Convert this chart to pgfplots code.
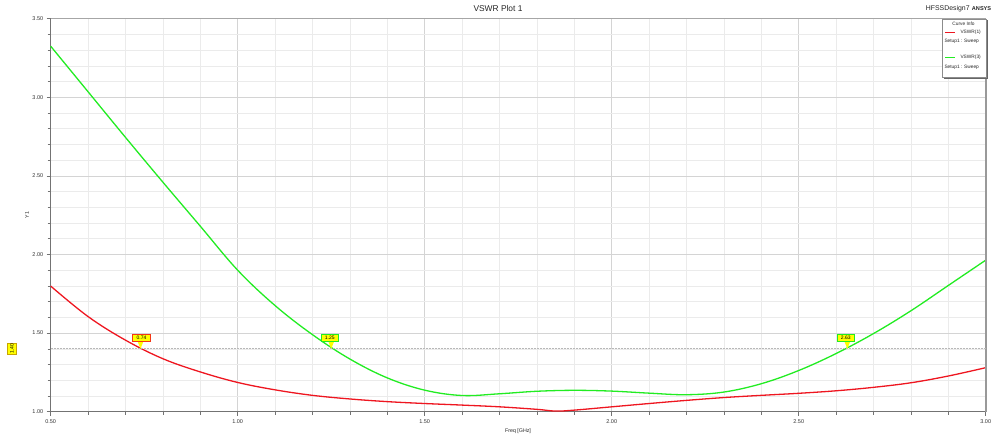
\documentclass[border=0pt]{standalone}
\usepackage{pgfplots}
\pgfplotsset{compat=1.18}
\usepackage{fontspec}
\setmainfont{Liberation Sans}
\definecolor{vred}{RGB}{238,22,32}
\definecolor{vgreen}{RGB}{34,236,34}
\definecolor{mkyel}{RGB}{255,255,0}
\definecolor{mkbord}{RGB}{200,165,0}
\pgfplotstableread{
x y
0.50 1.799
0.60 1.605
0.70 1.455
0.80 1.337
0.90 1.253
1.00 1.186
1.10 1.139
1.20 1.104
1.30 1.081
1.40 1.064
1.50 1.052
1.60 1.042
1.70 1.031
1.80 1.015
1.85 1.004
1.90 1.010
2.00 1.031
2.10 1.052
2.20 1.072
2.30 1.090
2.40 1.104
2.50 1.117
2.60 1.133
2.70 1.155
2.80 1.184
2.90 1.227
3.00 1.280
}\redtab
\pgfplotstableread{
x y
0.50 3.325
0.60 3.035
0.70 2.745
0.80 2.460
0.90 2.180
1.00 1.900
1.10 1.675
1.20 1.490
1.30 1.335
1.40 1.215
1.50 1.137
1.60 1.103
1.70 1.114
1.80 1.130
1.90 1.136
2.00 1.131
2.10 1.118
2.20 1.108
2.30 1.125
2.40 1.178
2.50 1.262
2.60 1.370
2.70 1.497
2.80 1.642
2.90 1.803
3.00 1.964
}\greentab
\begin{document}
\begin{tikzpicture}
\path[use as bounding box] (0pt,0pt) rectangle (1000pt,438pt);
\begin{axis}[
  at={(50.7pt,26.3pt)}, anchor=south west,
  scale only axis, width=935pt, height=393pt,
  xmin=0.5, xmax=3, ymin=1, ymax=3.5,
  xtick={0.5,1,1.5,2,2.5,3}, ytick={1,1.5,2,2.5,3,3.5},
  minor x tick num=4, minor y tick num=4,
  grid=both,
  major grid style={draw=black!17, line width=0.6pt},
  minor grid style={draw=black!8, line width=0.6pt},
  tick pos=left, tick align=outside,
  major tick length=4pt, minor tick length=3pt,
  every tick/.style={draw=black!55, line width=0.6pt},
  axis line style={draw=black!55, line width=0.7pt},
  /pgf/number format/fixed, /pgf/number format/fixed zerofill,
  /pgf/number format/precision=2, /pgf/number format/assume math mode=true,
  tick label style={font=\fontsize{5.5}{6}\selectfont, text=black!80},
  xticklabel style={yshift=0pt},
  clip=false,
]
\addplot[vred, line width=1.3pt, smooth, tension=0.6] table[x=x,y=y] {\redtab};
\addplot[vgreen, line width=1.3pt, smooth, tension=0.6] table[x=x,y=y] {\greentab};
% right and top border
\draw[black!40, line width=1.8pt] (rel axis cs:1,0) -- (rel axis cs:1,1);
\draw[black!35, line width=0.8pt] (rel axis cs:0,1) -- (rel axis cs:1,1);
% 1.40 reference line
\draw[black!28, dash pattern=on 2pt off 1pt, line width=0.9pt] (axis cs:0.5,1.4) -- (axis cs:3,1.4);
% marker 0.74
\fill[mkyel] (axis cs:0.74,1.4) -- ++(-3pt,7.6pt) -- ++(6pt,0pt) -- cycle;
\node[fill=mkyel, draw=vred!70!orange, line width=0.5pt, inner sep=0pt, minimum width=17.5pt, minimum height=7.5pt, font=\fontsize{5}{5}\selectfont, anchor=south, yshift=7.3pt, xshift=1pt] at (axis cs:0.74,1.4) {0.74};
% marker 1.25
\fill[mkyel] (axis cs:1.25,1.4) -- ++(-3pt,7.6pt) -- ++(6pt,0pt) -- cycle;
\node[fill=mkyel, draw=vgreen, line width=0.5pt, inner sep=0pt, minimum width=17.5pt, minimum height=7.5pt, font=\fontsize{5}{5}\selectfont, anchor=south, yshift=7.3pt, xshift=-1.5pt] at (axis cs:1.25,1.4) {1.25};
% marker 2.63
\fill[mkyel] (axis cs:2.63,1.4) -- ++(-3pt,7.6pt) -- ++(6pt,0pt) -- cycle;
\node[fill=mkyel, draw=vgreen, line width=0.5pt, inner sep=0pt, minimum width=17.5pt, minimum height=7.5pt, font=\fontsize{5}{5}\selectfont, anchor=south, yshift=7.3pt, xshift=-1.5pt] at (axis cs:2.63,1.4) {2.63};
% y marker 1.40
\node[fill=mkyel, draw=mkbord, line width=0.5pt, inner sep=0pt, minimum width=11.3pt, minimum height=9.4pt, font=\fontsize{5}{5}\selectfont, rotate=90, yshift=38.7pt] at (axis cs:0.5,1.4) {1.40};
\end{axis}
% title and labels
\node[font=\fontsize{8.4}{9}\selectfont, text=black!85] at (498pt,429pt) {VSWR Plot 1};
\node[font=\fontsize{5.3}{6}\selectfont, text=black!85] at (518pt,7.3pt) {Freq [GHz]};
\node[font=\fontsize{5.3}{6}\selectfont, text=black!85, rotate=90] at (27pt,223pt) {Y1};
\node[font=\fontsize{6.9}{7}\selectfont, anchor=west, inner sep=0pt, text=black!85] at (925.7pt,429.7pt) {HFSSDesign7};
\node[font=\bfseries\fontsize{5.6}{6}\selectfont, anchor=west, inner sep=0pt, text=black!85] at (971.7pt,429.7pt) {ANSYS};
% legend
\fill[black!60] (944.2pt,359.2pt) rectangle (988pt,417.5pt);
\draw[black!45, fill=white, line width=0.5pt] (942.7pt,360.7pt) rectangle (986.5pt,419pt);
\node[font=\fontsize{4.8}{5}\selectfont, text=black!85] at (963.5pt,414.5pt) {Curve Info};
\draw[vred, line width=1.2pt] (945.3pt,405.7pt) -- (955.3pt,405.7pt);
\node[font=\fontsize{4.8}{5}\selectfont, anchor=west, inner sep=0pt, text=black!85] at (960.3pt,405.7pt) {VSWR(1)};
\node[font=\fontsize{4.8}{5}\selectfont, anchor=west, inner sep=0pt, text=black!85] at (944.3pt,396.7pt) {Setup1 : Sweep};
\draw[vgreen, line width=1.2pt] (945.3pt,380.3pt) -- (955.3pt,380.3pt);
\node[font=\fontsize{4.8}{5}\selectfont, anchor=west, inner sep=0pt, text=black!85] at (960.3pt,380.3pt) {VSWR(3)};
\node[font=\fontsize{4.8}{5}\selectfont, anchor=west, inner sep=0pt, text=black!85] at (944.3pt,370.7pt) {Setup1 : Sweep};
\end{tikzpicture}
\end{document}
